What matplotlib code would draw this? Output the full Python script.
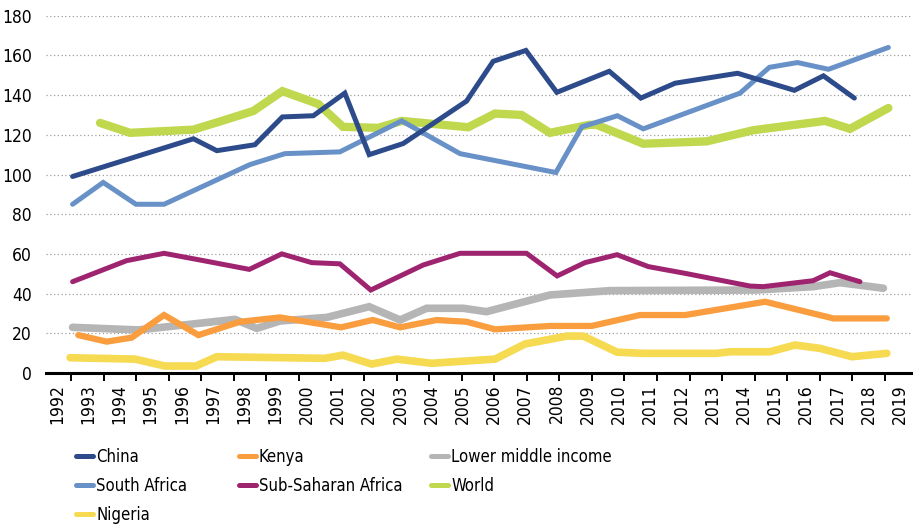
import numpy as np
import matplotlib
matplotlib.use("Agg")
from matplotlib import pyplot as plt
from matplotlib import font_manager

# the original uses a condensed face; take DejaVu Sans Condensed if the system has it
_cond = font_manager.findfont(font_manager.FontProperties(family='DejaVu Sans', stretch='condensed'))
if 'Condensed' in _cond:
    plt.rcParams['font.family'] = ['DejaVu Sans']
    plt.rcParams['font.stretch'] = 'condensed'
else:
    plt.rcParams['font.family'] = ['Liberation Sans', 'DejaVu Sans']

# vertices (x = position on the year axis, y = value)
china_x = [1992.50, 1996.37, 1997.12, 1998.34, 1999.22, 2000.21, 2001.22, 2002.00, 2003.09,
           2005.12, 2005.97, 2007.02, 2008.01, 2009.69, 2010.70, 2011.80, 2013.80, 2015.62,
           2016.55, 2017.54]
china_y = [99, 118, 112, 115, 129, 129.6, 141, 110, 115.6, 137, 157, 162.5, 141.4, 152, 138.5,
           146, 151, 142.4, 149.7, 138.5]

safrica_x = [1992.50, 1993.48, 1994.53, 1995.43, 1998.18, 1999.30, 2001.06, 2003.04, 2004.91,
             2007.98, 2008.81, 2009.95, 2010.78, 2013.88, 2014.82, 2015.72, 2016.71, 2018.63]
safrica_y = [85, 96, 85, 85, 105, 110.5, 111.4, 127, 110.5, 101, 124, 129.6, 123, 141, 154,
             156.4, 153, 164]

world_x = [1993.38, 1994.34, 1996.37, 1997.28, 1998.29, 1999.22, 2000.37, 2001.16, 2002.29,
           2003.04, 2005.17, 2006.03, 2006.88, 2007.79, 2009.04, 2009.29, 2010.78, 2012.81,
           2014.30, 2016.60, 2017.40, 2018.63]
world_y = [126, 121, 122.6, 127, 132, 142, 135.5, 124, 123.5, 127, 123.8, 130.7, 130, 121, 125,
           125, 115.5, 116.7, 122.3, 127, 123, 133.5]

ssa_x = [1992.50, 1994.23, 1995.43, 1996.69, 1998.16, 1999.20, 2000.16, 2001.06, 2002.05,
         2003.73, 2004.91, 2007.04, 2008.02, 2008.91, 2009.94, 2010.94, 2012.12, 2014.20,
         2014.62, 2016.22, 2016.76, 2017.72]
ssa_y = [46, 56.6, 60.3, 56.6, 52.2, 60, 55.6, 55, 41.8, 54.4, 60.3, 60.3, 48.9, 55.6, 59.6,
         53.6, 50.2, 43.8, 43.5, 46.5, 50.5, 46]

lmi_x = [1992.50, 1994.60, 1997.70, 1998.40, 1999.14, 2000.64, 2002.00, 2002.99, 2003.84,
         2005.01, 2005.76, 2007.79, 2009.71, 2014.41, 2016.22, 2017.08, 2018.47]
lmi_y = [23, 21.7, 27, 22.5, 26.2, 28, 33.4, 26.7, 32.6, 32.6, 30.9, 39.3, 41.5, 41.8, 43.5,
         45.5, 42.7]

kenya_x = [1992.68, 1993.59, 1994.39, 1995.43, 1996.53, 1997.86, 1999.14, 2001.10, 2002.11,
           2002.99, 2004.16, 2005.12, 2006.03, 2007.79, 2009.13, 2010.67, 2012.12, 2014.68,
           2016.87, 2018.58]
kenya_y = [19.1, 15.8, 17.8, 29.2, 19.1, 25.8, 28, 23, 26.7, 23, 26.7, 25.8, 22, 23.7, 23.7,
           29.2, 29.2, 35.9, 27.5, 27.5]

nigeria_x = [1992.42, 1994.50, 1995.46, 1996.45, 1997.12, 2000.58, 2001.16, 2002.08, 2002.88,
             2004.00, 2006.03, 2006.99, 2008.33, 2008.86, 2009.94, 2010.78, 2013.13, 2013.56,
             2014.84, 2015.64, 2016.44, 2017.46, 2018.58]
nigeria_y = [7.7, 7, 3.5, 3.5, 8.2, 7.4, 9, 4.5, 7, 4.9, 7, 14.6, 18.6, 18.6, 10.5, 9.9, 9.9,
             10.7, 10.7, 14.1, 12.4, 8.2, 9.9]

years = list(range(1992, 2020))

fig = plt.figure(figsize=(9.17, 5.26), dpi=100)
ax = fig.add_axes([46/917, 1-373/526, (910.7-46)/917, (373-15.7)/526])

kw = dict(solid_capstyle='round', solid_joinstyle='miter', clip_on=False)
l_ng, = ax.plot(nigeria_x, nigeria_y, color='#F5DA52', lw=5.5, label='Nigeria', **kw)
l_lm, = ax.plot(lmi_x, lmi_y, color='#B5B5B5', lw=5.5, label='Lower middle income', **kw)
l_ke, = ax.plot(kenya_x, kenya_y, color='#F99D3E', lw=4.5, label='Kenya', **kw)
l_ss, = ax.plot(ssa_x, ssa_y, color='#9E2470', lw=3.6, label='Sub-Saharan Africa', **kw)
l_wo, = ax.plot(world_x, world_y, color='#BFD84E', lw=6, label='World', **kw)
l_sa, = ax.plot(safrica_x, safrica_y, color='#6891C8', lw=3.6, label='South Africa', **kw)
l_ch, = ax.plot(china_x, china_y, color='#2D4B8A', lw=3.6, label='China', **kw)

ax.set_xlim(1991.648, 2019.345)
ax.set_ylim(0, 180)

for s in ['top', 'right', 'left']:
    ax.spines[s].set_visible(False)
ax.spines['bottom'].set_linewidth(2.2)
ax.spines['bottom'].set_color('black')
ax.spines['bottom'].set_zorder(5)

ax.set_yticks(range(0, 181, 20))
ax.tick_params(axis='y', length=0, pad=10, labelsize=12.5)
ax.yaxis.grid(True, linestyle=(0, (1, 2)), color='#a0a0a0', linewidth=0.9)
ax.set_axisbelow(True)

# category tick marks and year labels are offset from each other in the original
ax.set_xticks(np.linspace(1992.448, 2018.521, 26))
ax.set_xticklabels([])
ax.tick_params(axis='x', which='major', length=5.5, width=1.4, color='black', direction='out')
ax.set_xticks(years, minor=True)
ax.set_xticklabels([str(y) for y in years], minor=True, rotation=90, fontsize=12.5)
ax.tick_params(axis='x', which='minor', length=0, pad=8)

leg_kw = dict(loc='upper left', frameon=False, fontsize=12, borderpad=0, borderaxespad=0,
              handlelength=1.0, handletextpad=0.2, labelspacing=0.66)
cols = [([l_ch, l_sa, l_ng], 76), ([l_ke, l_ss], 239), ([l_lm, l_wo], 431)]
for handles, xpx in cols:
    lg = fig.legend(handles=handles, bbox_to_anchor=(xpx/917, 1-448/526), **leg_kw)
    for h in lg.get_lines():
        h.set_linewidth(3.6)
        h.set_solid_capstyle('round')

fig.savefig('out.png', dpi=100)
